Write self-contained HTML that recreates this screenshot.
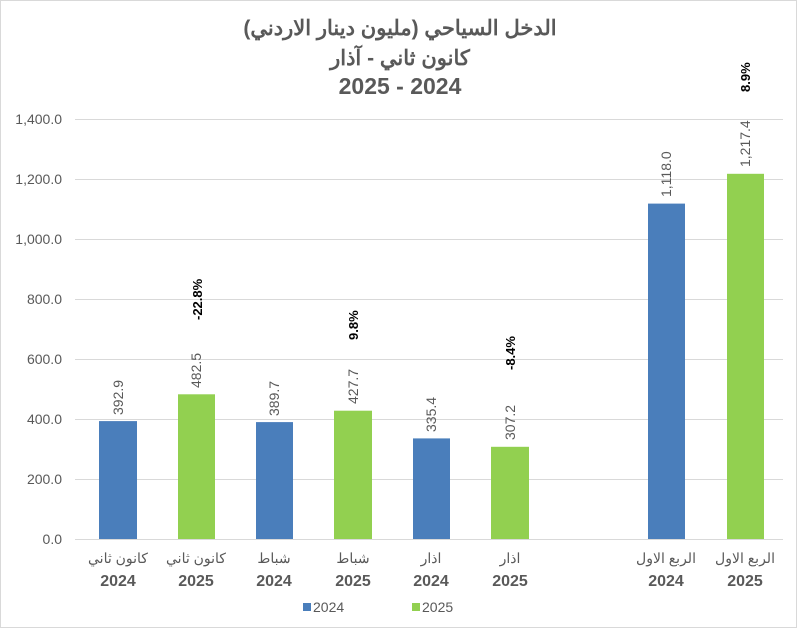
<!DOCTYPE html>
<html><head><meta charset="utf-8"><style>
body{margin:0;background:#fff}
svg{display:block;font-family:"Liberation Sans","Noto Sans CJK SC",sans-serif}
</style></head><body>
<svg width="800" height="630" viewBox="0 0 800 630">
<rect x="0.5" y="0.5" width="796" height="627" fill="#fff" stroke="#d9d9d9"/>
<g fill="#595959" font-weight="bold" text-anchor="middle">
<text x="400" y="35" font-size="21" direction="rtl">الدخل السياحي (مليون دينار الاردني)</text>
<text x="400" y="65" font-size="21" direction="rtl">كانون ثاني - آذار</text>
<text x="400" y="94" font-size="23">2025 - 2024</text>
</g>
<g stroke="#d9d9d9" stroke-width="1">
<line x1="75" x2="783" y1="119.5" y2="119.5"/>
<line x1="75" x2="783" y1="179.5" y2="179.5"/>
<line x1="75" x2="783" y1="239.5" y2="239.5"/>
<line x1="75" x2="783" y1="299.5" y2="299.5"/>
<line x1="75" x2="783" y1="359.5" y2="359.5"/>
<line x1="75" x2="783" y1="419.5" y2="419.5"/>
<line x1="75" x2="783" y1="479.5" y2="479.5"/>
<line x1="75" x2="783" y1="539.5" y2="539.5"/>
</g>
<g fill="#595959" font-size="14" text-anchor="end">
<text x="62" y="124">1,400.0</text>
<text x="62" y="184">1,200.0</text>
<text x="62" y="244">1,000.0</text>
<text x="62" y="304">800.0</text>
<text x="62" y="364">600.0</text>
<text x="62" y="424">400.0</text>
<text x="62" y="484">200.0</text>
<text x="62" y="544">0.0</text>
</g>
<g>
<rect x="99" y="421.1" width="38" height="117.9" fill="#4a7ebb"/>
<rect x="178" y="394.3" width="37" height="144.7" fill="#92d050"/>
<rect x="256" y="422.1" width="37" height="116.9" fill="#4a7ebb"/>
<rect x="334" y="410.7" width="38" height="128.3" fill="#92d050"/>
<rect x="413" y="438.4" width="37" height="100.6" fill="#4a7ebb"/>
<rect x="491" y="446.8" width="38" height="92.2" fill="#92d050"/>
<rect x="648" y="203.6" width="37" height="335.4" fill="#4a7ebb"/>
<rect x="727" y="173.8" width="37" height="365.2" fill="#92d050"/>
</g>
<g fill="#595959" font-size="14">
<text transform="translate(123,415) rotate(-90)">392.9</text>
<text transform="translate(201,388) rotate(-90)">482.5</text>
<text transform="translate(279,416) rotate(-90)">389.7</text>
<text transform="translate(358,404) rotate(-90)">427.7</text>
<text transform="translate(436,432) rotate(-90)">335.4</text>
<text transform="translate(515,440) rotate(-90)">307.2</text>
<text transform="translate(671,197) rotate(-90)">1,118.0</text>
<text transform="translate(750,167) rotate(-90)">1,217.4</text>
</g>
<g fill="#000" font-size="13" font-weight="bold">
<text transform="translate(202,320) rotate(-90)">-22.8%</text>
<text transform="translate(358,340) rotate(-90)">9.8%</text>
<text transform="translate(515,370) rotate(-90)">-8.4%</text>
<text transform="translate(750,92) rotate(-90)">8.9%</text>
</g>
<g fill="#595959" font-size="14" text-anchor="middle" direction="rtl">
<text x="118" y="563">كانون ثاني</text>
<text x="196" y="563">كانون ثاني</text>
<text x="274" y="563">شباط</text>
<text x="353" y="563">شباط</text>
<text x="431" y="563">اذار</text>
<text x="510" y="563">اذار</text>
<text x="666" y="563">الربع الاول</text>
<text x="745" y="563">الربع الاول</text>
</g>
<g fill="#595959" font-size="16" font-weight="bold" text-anchor="middle">
<text x="118" y="586">2024</text>
<text x="196" y="586">2025</text>
<text x="274" y="586">2024</text>
<text x="353" y="586">2025</text>
<text x="431" y="586">2024</text>
<text x="510" y="586">2025</text>
<text x="666" y="586">2024</text>
<text x="745" y="586">2025</text>
</g>
<rect x="303" y="603" width="8" height="8" fill="#4a7ebb"/>
<text x="313" y="612" font-size="14" fill="#595959">2024</text>
<rect x="412" y="603" width="8" height="8" fill="#92d050"/>
<text x="422" y="612" font-size="14" fill="#595959">2025</text>
</svg>
</body></html>
